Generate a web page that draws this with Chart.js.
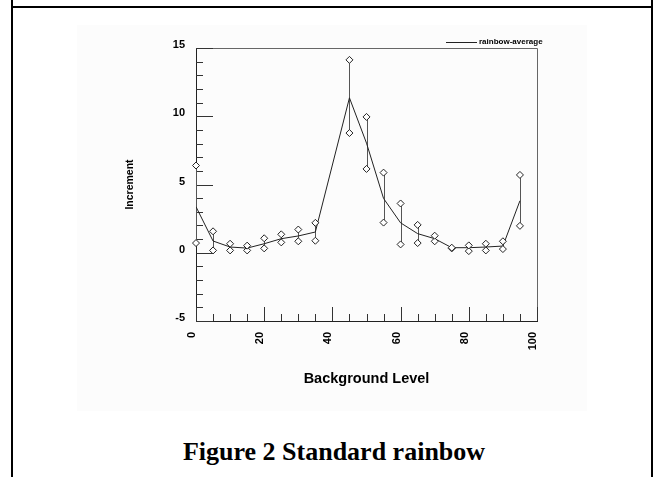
<!DOCTYPE html>
<html>
<head>
<meta charset="utf-8">
<script src="https://cdn.jsdelivr.net/npm/chart.js@4"></script>
<style>
body { margin: 0; width: 654px; height: 477px; background: #fff; position: relative; overflow: hidden; }
.ln { position: absolute; background: #000; }
#c { position: absolute; left: 77px; top: 25px; background: #fcfcfc; }
#cap { position: absolute; left: 0; width: 668px; top: 439px; text-align: center;
       font: bold 26px/26px "Liberation Serif", "Times New Roman", serif; color: #000; }
</style>
</head>
<body>
<div class="ln" style="left:11px;top:0;width:2px;height:477px"></div>
<div class="ln" style="left:651px;top:0;width:2px;height:477px"></div>
<div class="ln" style="left:11px;top:6px;width:642px;height:2px"></div>
<canvas id="c" width="510" height="386"></canvas>
<div id="cap">Figure 2 Standard rainbow</div>
<script>
// background level where each sample was taken
const levels = [0, 5, 10, 15, 20, 25, 30, 35, 45, 50, 55, 60, 65, 70, 75, 80, 85, 90, 95];
const avgVals = [3.37, 0.86, 0.42, 0.34, 0.66, 1.03, 1.23, 1.52, 11.35, 8.03, 3.98, 2.19, 1.40, 1.03, 0.37, 0.37, 0.42, 0.49, 3.81];
const upperVals = [6.39, 1.57, 0.66, 0.52, 1.06, 1.35, 1.70, 2.19, 14.13, 9.95, 5.87, 3.61, 2.04, 1.25, 0.37, 0.54, 0.66, 0.84, 5.70];
const lowerVals = [0.71, 0.17, 0.17, 0.17, 0.32, 0.76, 0.84, 0.88, 8.77, 6.14, 2.21, 0.61, 0.71, 0.84, 0.32, 0.12, 0.17, 0.27, 1.97];
const yTicks = [-5, 0, 5, 10, 15];
const xTicks = [0, 20, 40, 60, 80, 100];

const FONT = 'Arial, "Liberation Sans", sans-serif';

const pts = vals => levels.map((x, i) => ({ x: x, y: vals[i] }));

// inward tick marks, top/right frame, error bars and the legend
const frame = {
    id: 'frame',
    beforeDatasetsDraw(chart) {
        const { ctx, chartArea: a, scales: { x, y } } = chart;
        ctx.save();
        ctx.lineWidth = 1;
        ctx.strokeStyle = '#666';
        ctx.beginPath();
        ctx.moveTo(a.left, a.top + 0.5);
        ctx.lineTo(a.right + 0.5, a.top + 0.5);
        ctx.lineTo(a.right + 0.5, a.bottom);
        ctx.stroke();

        ctx.strokeStyle = '#333';
        ctx.beginPath();
        y.ticks.forEach(t => {
            const py = Math.round(y.getPixelForValue(t.value)) + 0.5;
            const len = yTicks.includes(t.value) ? 17 : 7;
            ctx.moveTo(a.left, py);
            ctx.lineTo(a.left + len, py);
        });
        x.ticks.forEach(t => {
            const px = Math.round(x.getPixelForValue(t.value)) + 0.5;
            const len = xTicks.includes(t.value) ? 14 : 7;
            ctx.moveTo(px, a.bottom);
            ctx.lineTo(px, a.bottom - len);
        });
        ctx.stroke();

        ctx.strokeStyle = '#555';
        ctx.beginPath();
        levels.forEach((lv, i) => {
            const px = Math.round(x.getPixelForValue(lv)) + 0.5;
            ctx.moveTo(px, y.getPixelForValue(upperVals[i]));
            ctx.lineTo(px, y.getPixelForValue(lowerVals[i]));
        });
        ctx.stroke();
        ctx.restore();
    },
    afterDraw(chart) {
        const ds = chart.data.datasets[2];
        const ctx = chart.ctx;
        ctx.save();
        ctx.strokeStyle = ds.borderColor;
        ctx.lineWidth = 1;
        ctx.beginPath();
        ctx.moveTo(369, 17.5);
        ctx.lineTo(400, 17.5);
        ctx.stroke();
        ctx.fillStyle = '#000';
        ctx.font = 'bold 8px ' + FONT;
        ctx.textBaseline = 'middle';
        ctx.fillText(ds.label, 402, 17);
        ctx.restore();
    }
};

new Chart(document.getElementById('c'), {
    type: 'scatter',
    data: {
        datasets: [
            {
                label: 'upper', data: pts(upperVals), pointStyle: 'rectRot', pointRadius: 3.5,
                pointBackgroundColor: '#fff', pointBorderColor: '#222', pointBorderWidth: 1, clip: false
            },
            {
                label: 'lower', data: pts(lowerVals), pointStyle: 'rectRot', pointRadius: 3.5,
                pointBackgroundColor: '#fff', pointBorderColor: '#222', pointBorderWidth: 1, clip: false
            },
            {
                label: 'rainbow-average', type: 'line', data: pts(avgVals), borderColor: '#222',
                borderWidth: 1, pointRadius: 0, tension: 0, fill: false
            }
        ]
    },
    options: {
        responsive: false,
        animation: false,
        devicePixelRatio: 1,
        layout: { padding: { left: 0, right: 50, top: 23, bottom: 0 } },
        plugins: { legend: { display: false }, tooltip: { enabled: false } },
        scales: {
            x: {
                type: 'linear', min: 0, max: 100,
                afterFit: s => { s.height = 90; },
                grid: { display: false, drawTicks: false },
                border: { display: true, color: '#222', width: 1 },
                ticks: {
                    stepSize: 5, autoSkip: false, minRotation: 90, maxRotation: 90, padding: 11, labelOffset: -4,
                    color: '#000', font: { family: FONT, size: 11, weight: 'bold' },
                    callback: v => xTicks.includes(v) ? String(v) : ''
                },
                title: {
                    display: true, text: 'Background Level', color: '#000',
                    font: { family: FONT, size: 14.5, weight: 'bold' }, padding: { top: 0, bottom: 23 }
                }
            },
            y: {
                min: -5, max: 15,
                afterFit: s => { s.width = 119; },
                grid: { display: false, drawTicks: false },
                border: { display: true, color: '#222', width: 1 },
                ticks: {
                    stepSize: 1, autoSkip: false, padding: 11, labelOffset: -3,
                    color: '#000', font: { family: FONT, size: 11, weight: 'bold' },
                    callback: v => yTicks.includes(v) ? String(v) : ''
                },
                title: {
                    display: true, text: 'Increment', color: '#000',
                    font: { family: FONT, size: 10.5, weight: 'bold' }, padding: { top: 47, bottom: 0 }
                }
            }
        }
    },
    plugins: [frame]
});
</script>
</body>
</html>
